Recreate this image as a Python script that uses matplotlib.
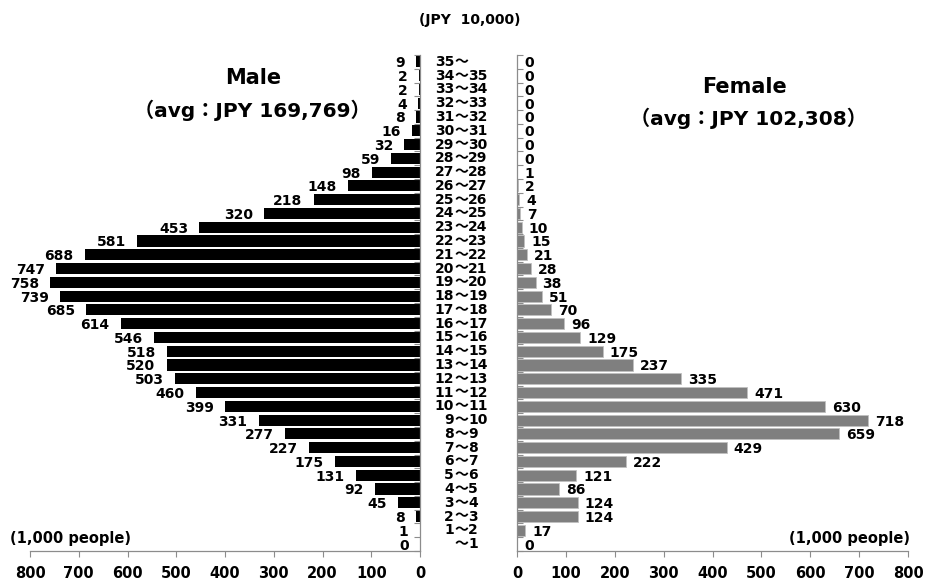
import numpy as np
import matplotlib.pyplot as plt
from matplotlib.transforms import blended_transform_factory

plt.rcParams['font.family'] = ['DejaVu Sans', 'Noto Sans CJK JP']
plt.rcParams['font.weight'] = 'bold'

# income brackets (JPY 10,000), bottom to top
brackets = ["～1", "1～2", "2～3", "3～4", "4～5", "5～6", "6～7", "7～8", "8～9",
            "9～10", "10～11", "11～12", "12～13", "13～14", "14～15", "15～16",
            "16～17", "17～18", "18～19", "19～20", "20～21", "21～22", "22～23",
            "23～24", "24～25", "25～26", "26～27", "27～28", "28～29", "29～30",
            "30～31", "31～32", "32～33", "33～34", "34～35", "35～"]

# number of people (1,000 people)
male = [0, 1, 8, 45, 92, 131, 175, 227, 277, 331, 399, 460, 503, 520, 518, 546,
        614, 685, 739, 758, 747, 688, 581, 453, 320, 218, 148, 98, 59, 32, 16, 8,
        4, 2, 2, 9]
female = [0, 17, 124, 124, 86, 121, 222, 429, 659, 718, 630, 471, 335, 237, 175,
          129, 96, 70, 51, 38, 28, 21, 15, 10, 7, 4, 2, 1, 0, 0, 0, 0, 0, 0, 0, 0]

x_ticks = [0, 100, 200, 300, 400, 500, 600, 700, 800]

fig = plt.figure(figsize=(9.3, 5.81), dpi=100)
bottom = 1 - 551 / 581
height = 496 / 581
axL = fig.add_axes([30 / 930, bottom, 390 / 930, height])
axR = fig.add_axes([517 / 930, bottom, 391 / 930, height])

y = np.arange(len(brackets))
spine_col = '#8c8c8c'

# male side
axL.barh(y, male, height=0.8, color='black')
axL.set_xlim(800, 0)
for yi, v in zip(y, male):
    axL.annotate(str(v), (v, yi), xytext=(-8, -1), textcoords='offset points',
                 ha='right', va='center', fontsize=10, fontweight='bold')

# female side
axR.barh(y, female, height=0.8, color='#7f7f7f', edgecolor='#c0c0c0', linewidth=0.6)
axR.set_xlim(0, 800)
for yi, v in zip(y, female):
    axR.annotate(str(v), (v, yi), xytext=(5, -1), textcoords='offset points',
                 ha='left', va='center', fontsize=10, fontweight='bold')

for ax in (axL, axR):
    ax.set_ylim(-0.5, len(brackets) - 0.5)
    ax.set_xticks(x_ticks)
    ax.set_xticklabels([str(t) for t in x_ticks], fontsize=10.5, fontweight='bold')
    ax.set_yticks(np.arange(-0.5, len(brackets), 1))
    ax.set_yticklabels([])
    ax.tick_params(axis='x', direction='out', length=4, color=spine_col, pad=7)
    ax.tick_params(axis='y', direction='in', length=4, color=spine_col)
    ax.spines['top'].set_visible(False)
    for s in ax.spines.values():
        s.set_color(spine_col)
        s.set_linewidth(0.9)

axL.spines['left'].set_visible(False)
axL.yaxis.tick_right()
axR.spines['right'].set_visible(False)

# bracket labels in the middle, lined up on the tilde
tr = blended_transform_factory(fig.transFigure, axL.transData)
for yi, lab in zip(y, brackets):
    lo, hi = lab.split("～")
    fig.text(454 / 930, yi, lo, transform=tr, ha='right', va='center', fontsize=10, fontweight='bold')
    fig.text(461 / 930, yi, "～", transform=tr, ha='center', va='center', fontsize=10, fontweight='bold')
    fig.text(468 / 930, yi, hi, transform=tr, ha='left', va='center', fontsize=10, fontweight='bold')

fig.text(470 / 930, 1 - 20 / 581, "(JPY  10,000)", ha='center', va='center', fontsize=10, fontweight='bold')
fig.text(253 / 930, 1 - 78 / 581, "Male", ha='center', va='center', fontsize=15, fontweight='bold')
fig.text(252 / 930, 1 - 110 / 581, "（avg：JPY 169,769）", ha='center', va='center', fontsize=14.5, fontweight='bold')
fig.text(745 / 930, 1 - 87 / 581, "Female", ha='center', va='center', fontsize=15, fontweight='bold')
fig.text(748 / 930, 1 - 118 / 581, "（avg：JPY 102,308）", ha='center', va='center', fontsize=14.5, fontweight='bold')
fig.text(10 / 930, 1 - 538 / 581, "(1,000 people)", ha='left', va='center', fontsize=10.5, fontweight='bold')
fig.text(910 / 930, 1 - 538 / 581, "(1,000 people)", ha='right', va='center', fontsize=10.5, fontweight='bold')

fig.savefig("out.png", dpi=100)
